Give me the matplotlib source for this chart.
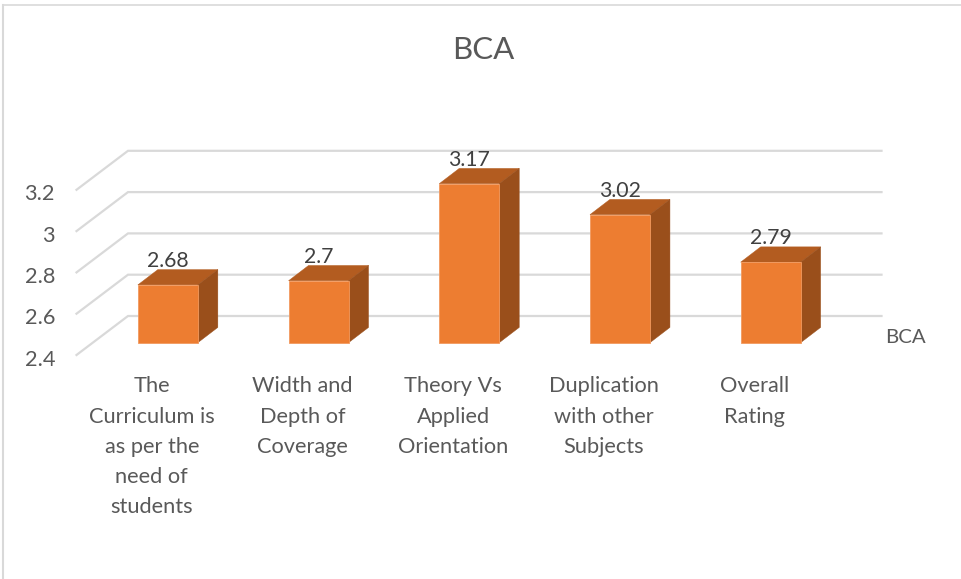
import matplotlib
matplotlib.use("Agg")
import matplotlib.pyplot as plt
from matplotlib.patches import Polygon
from matplotlib.lines import Line2D
from matplotlib.transforms import ScaledTranslation

categories = ["The\nCurriculum is\nas per the\nneed of\nstudents",
              "Width and\nDepth of\nCoverage",
              "Theory Vs\nApplied\nOrientation",
              "Duplication\nwith other\nSubjects",
              "Overall\nRating"]
values = [2.68, 2.7, 3.17, 3.02, 2.79]
y_ticks = [2.4, 2.6, 2.8, 3.0, 3.2]
y_tick_labels = ["2.4", "2.6", "2.8", "3", "3.2"]
value_labels = ["2.68", "2.7", "3.17", "3.02", "2.79"]
series_name = "BCA"

W, H = 962, 579
plt.rcParams["font.family"] = ["Lato", "DejaVu Sans"]
fig = plt.figure(figsize=(W / 100, H / 100), dpi=100, facecolor="white")

L, R, B, T = 92.5, 846, 342.7, 177.5
ax = fig.add_axes([L / W, 1 - B / H, (R - L) / W, (B - T) / H])
ax.set_xlim(-0.5, 4.5)
ax.set_ylim(2.4, 3.2)
ax.patch.set_alpha(0)
for s in ax.spines.values():
    s.set_visible(False)

# chart-area border
fig.add_artist(Line2D([3 / W, 3 / W], [0, 1 - 4.5 / H], color="#D9D9D9", lw=1.5))
fig.add_artist(Line2D([3 / W, 1], [1 - 4.5 / H, 1 - 4.5 / H], color="#D9D9D9", lw=1.2))

# gridlines: floor-depth leg, then along the back wall (pixel offsets from the bar plane)
x_per_px = 5 / (R - L)
y_per_px = 0.8 / (B - T)
fx, fy = -16 * x_per_px, -12.3 * y_per_px
bx, by = 35.5 * x_per_px, 26.7 * y_per_px
x_end = 4.5
for v in y_ticks:
    ax.plot([-0.5 + fx, -0.5 + bx, x_end + bx], [v + fy, v + by, v + by],
            color="#D9D9D9", lw=1.6, clip_on=False, zorder=1, solid_joinstyle="miter")

# bars
bar_w = 60 * x_per_px
dx, dy = 20 * x_per_px, 15.3 * y_per_px
xs = list(range(len(values)))
ax.bar(xs, [v - y_ticks[0] for v in values], bottom=y_ticks[0], width=bar_w,
       color="#ED7D31", zorder=4, clip_on=False, edgecolor="#F29A5F", linewidth=0.6)
for x, v in zip(xs, values):
    l, r = x - bar_w / 2, x + bar_w / 2
    base = y_ticks[0]
    ax.add_patch(Polygon([(l, v), (r, v), (r + dx, v + dy), (l + dx, v + dy)],
                         closed=True, fc="#B35C20", ec="#B35C20", lw=0.3, zorder=3, clip_on=False))
    ax.add_patch(Polygon([(r, base), (r + dx, base + dy), (r + dx, v + dy), (r, v)],
                         closed=True, fc="#9A4F1B", ec="#9A4F1B", lw=0.3, zorder=3, clip_on=False))

# data labels
for x, v, t in zip(xs, values, value_labels):
    ax.annotate(t, (x, v), xytext=(0, 24 * 0.72), textcoords="offset points",
                ha="center", va="center", fontsize=15.3, color="#404040", zorder=6,
                annotation_clip=False)

# axes labels
ax.set_xticks(xs, categories)
ax.set_yticks(y_ticks, y_tick_labels)
ax.tick_params(axis="both", length=0, labelcolor="#595959", labelsize=15.7)
ax.tick_params(axis="x", pad=(376.5 - B) * 0.72)
ax.tick_params(axis="y", pad=(L - 55) * 0.72)
xshift = ScaledTranslation(-16 / 100, 0, fig.dpi_scale_trans)
yshift = ScaledTranslation(0, -15 / 100, fig.dpi_scale_trans)
for lab in ax.get_xticklabels():
    lab.set_transform(lab.get_transform() + xshift)
    lab.set_linespacing(1.63)
for lab in ax.get_yticklabels():
    lab.set_transform(lab.get_transform() + yshift)

fig.text(483.5 / W, 1 - 50 / H, series_name, ha="center", va="center", fontsize=22.5, color="#595959")
fig.text(885.5 / W, 1 - 337.5 / H, series_name, ha="left", va="center", fontsize=14.7, color="#595959")

fig.savefig("out.png", dpi=100)
